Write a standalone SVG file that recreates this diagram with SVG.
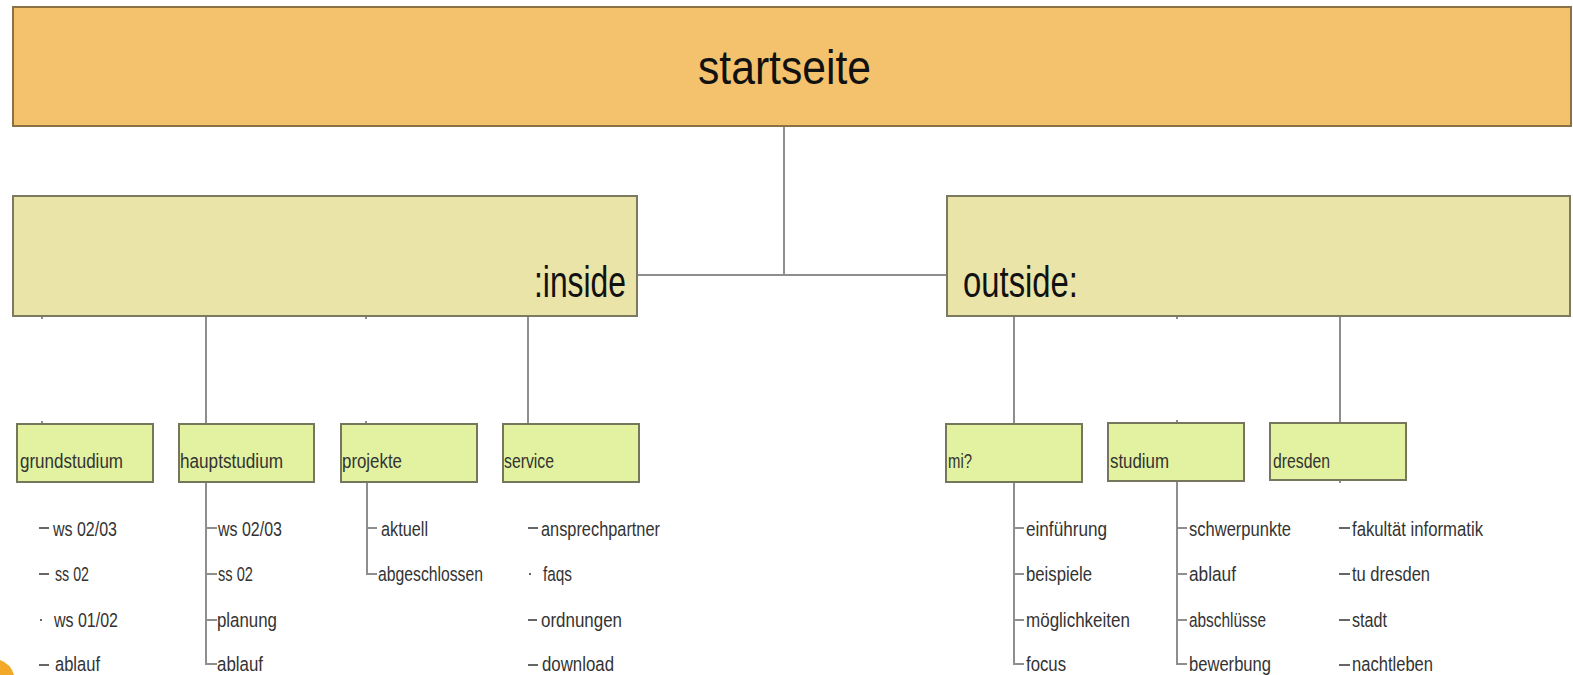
<svg xmlns="http://www.w3.org/2000/svg" width="1573" height="675" viewBox="0 0 1573 675">
<style>
.t{font-family:"Liberation Sans",Arial,sans-serif;fill:#222;}
.big{font-size:48px;fill:#111;}
.mid{font-size:45px;fill:#111;}
.lab{font-size:20px;fill:#333;}
.li{font-size:20.5px;fill:#333;}
.top{fill:#F4C26C;stroke:#8A7245;stroke-width:2;}
.sec{fill:#EAE4A8;stroke:#7C7A5E;stroke-width:2;}
.sub{fill:#E2F2A0;stroke:#76765C;stroke-width:2;}
.c{stroke:#8E8E8E;stroke-width:2;fill:none;}
.d{stroke:#666;stroke-width:2;fill:none;}
</style>
<rect width="1573" height="675" fill="#fff"/>
<g id="connectors">
<path class="c" d="M784 126V275M637 275H947"/>
<path class="c" d="M206 316V424M528 316V424M42 316V319M366 316V319M42 421V424M366 421V424"/>
<path class="c" d="M1014 316V424M1340 316V423M1177 316V319M1177 420V423"/>
<path class="c" d="M206 482V664H217M206 528H217M206 574H217M206 620H217"/>
<path class="c" d="M367 482V574H377M367 528H377"/>
<path class="d" d="M39 528H49M39 574H49M40 620H42M39 665H49"/>
<path class="d" d="M528 528H538M529 574H531M528 620H537M528 665H538"/>
<path class="c" d="M1014 481V664H1024M1014 528H1024M1014 574H1024M1014 620H1024"/>
<path class="c" d="M1177 481V664H1187M1177 528H1187M1177 574H1187M1177 620H1187"/>
<path class="d" d="M1339 528H1350M1339 574H1350M1339 620H1350M1339 665H1350"/>
<path class="c" d="M1340 480V483"/>
</g>
<g id="startseite">
<rect class="top" x="13" y="7" width="1558" height="119"/>
<text class="t big" x="698" y="84" textLength="173" lengthAdjust="spacingAndGlyphs">startseite</text>
</g>
<g id="inside">
<rect class="sec" x="13" y="196" width="624" height="120"/>
<text class="t mid" x="534" y="297" textLength="92" lengthAdjust="spacingAndGlyphs">:inside</text>
</g>
<g id="outside">
<rect class="sec" x="947" y="196" width="623" height="120"/>
<text class="t mid" x="963" y="297" textLength="115" lengthAdjust="spacingAndGlyphs">outside:</text>
</g>
<g id="grundstudium">
<rect class="sub" x="17" y="424" width="136" height="58"/>
<text class="t lab" x="20" y="468" textLength="103" lengthAdjust="spacingAndGlyphs">grundstudium</text>
<text class="t li" x="53" y="536" textLength="64" lengthAdjust="spacingAndGlyphs">ws 02/03</text>
<text class="t li" x="55" y="581" textLength="34" lengthAdjust="spacingAndGlyphs">ss 02</text>
<text class="t li" x="54" y="627" textLength="64" lengthAdjust="spacingAndGlyphs">ws 01/02</text>
<text class="t li" x="55" y="671" textLength="45" lengthAdjust="spacingAndGlyphs">ablauf</text>
</g>
<g id="hauptstudium">
<rect class="sub" x="179" y="424" width="135" height="58"/>
<text class="t lab" x="180" y="468" textLength="103" lengthAdjust="spacingAndGlyphs">hauptstudium</text>
<text class="t li" x="218" y="536" textLength="64" lengthAdjust="spacingAndGlyphs">ws 02/03</text>
<text class="t li" x="218" y="581" textLength="35" lengthAdjust="spacingAndGlyphs">ss 02</text>
<text class="t li" x="217" y="627" textLength="60" lengthAdjust="spacingAndGlyphs">planung</text>
<text class="t li" x="217" y="671" textLength="46" lengthAdjust="spacingAndGlyphs">ablauf</text>
</g>
<g id="projekte">
<rect class="sub" x="341" y="424" width="136" height="58"/>
<text class="t lab" x="342" y="468" textLength="60" lengthAdjust="spacingAndGlyphs">projekte</text>
<text class="t li" x="381" y="536" textLength="47" lengthAdjust="spacingAndGlyphs">aktuell</text>
<text class="t li" x="378" y="581" textLength="105" lengthAdjust="spacingAndGlyphs">abgeschlossen</text>
</g>
<g id="service">
<rect class="sub" x="503" y="424" width="136" height="58"/>
<text class="t lab" x="504" y="468" textLength="50" lengthAdjust="spacingAndGlyphs">service</text>
<text class="t li" x="541" y="536" textLength="119" lengthAdjust="spacingAndGlyphs">ansprechpartner</text>
<text class="t li" x="543" y="581" textLength="29" lengthAdjust="spacingAndGlyphs">faqs</text>
<text class="t li" x="541" y="627" textLength="81" lengthAdjust="spacingAndGlyphs">ordnungen</text>
<text class="t li" x="542" y="671" textLength="72" lengthAdjust="spacingAndGlyphs">download</text>
</g>
<g id="mi">
<rect class="sub" x="946" y="424" width="136" height="58"/>
<text class="t lab" x="948" y="468" textLength="24" lengthAdjust="spacingAndGlyphs">mi?</text>
<text class="t li" x="1026" y="536" textLength="81" lengthAdjust="spacingAndGlyphs">einführung</text>
<text class="t li" x="1026" y="581" textLength="66" lengthAdjust="spacingAndGlyphs">beispiele</text>
<text class="t li" x="1026" y="627" textLength="104" lengthAdjust="spacingAndGlyphs">möglichkeiten</text>
<text class="t li" x="1026" y="671" textLength="40" lengthAdjust="spacingAndGlyphs">focus</text>
</g>
<g id="studium">
<rect class="sub" x="1108" y="423" width="136" height="58"/>
<text class="t lab" x="1110" y="468" textLength="59" lengthAdjust="spacingAndGlyphs">studium</text>
<text class="t li" x="1189" y="536" textLength="102" lengthAdjust="spacingAndGlyphs">schwerpunkte</text>
<text class="t li" x="1189" y="581" textLength="47" lengthAdjust="spacingAndGlyphs">ablauf</text>
<text class="t li" x="1189" y="627" textLength="77" lengthAdjust="spacingAndGlyphs">abschlüsse</text>
<text class="t li" x="1189" y="671" textLength="82" lengthAdjust="spacingAndGlyphs">bewerbung</text>
</g>
<g id="dresden">
<rect class="sub" x="1270" y="423" width="136" height="57"/>
<text class="t lab" x="1273" y="468" textLength="57" lengthAdjust="spacingAndGlyphs">dresden</text>
<text class="t li" x="1352" y="536" textLength="131" lengthAdjust="spacingAndGlyphs">fakultät informatik</text>
<text class="t li" x="1352" y="581" textLength="78" lengthAdjust="spacingAndGlyphs">tu dresden</text>
<text class="t li" x="1352" y="627" textLength="35" lengthAdjust="spacingAndGlyphs">stadt</text>
<text class="t li" x="1352" y="671" textLength="81" lengthAdjust="spacingAndGlyphs">nachtleben</text>
</g>
<path d="M0 660A22 22 0 0 1 14 675H0Z" fill="#F2A929"/>
</svg>
